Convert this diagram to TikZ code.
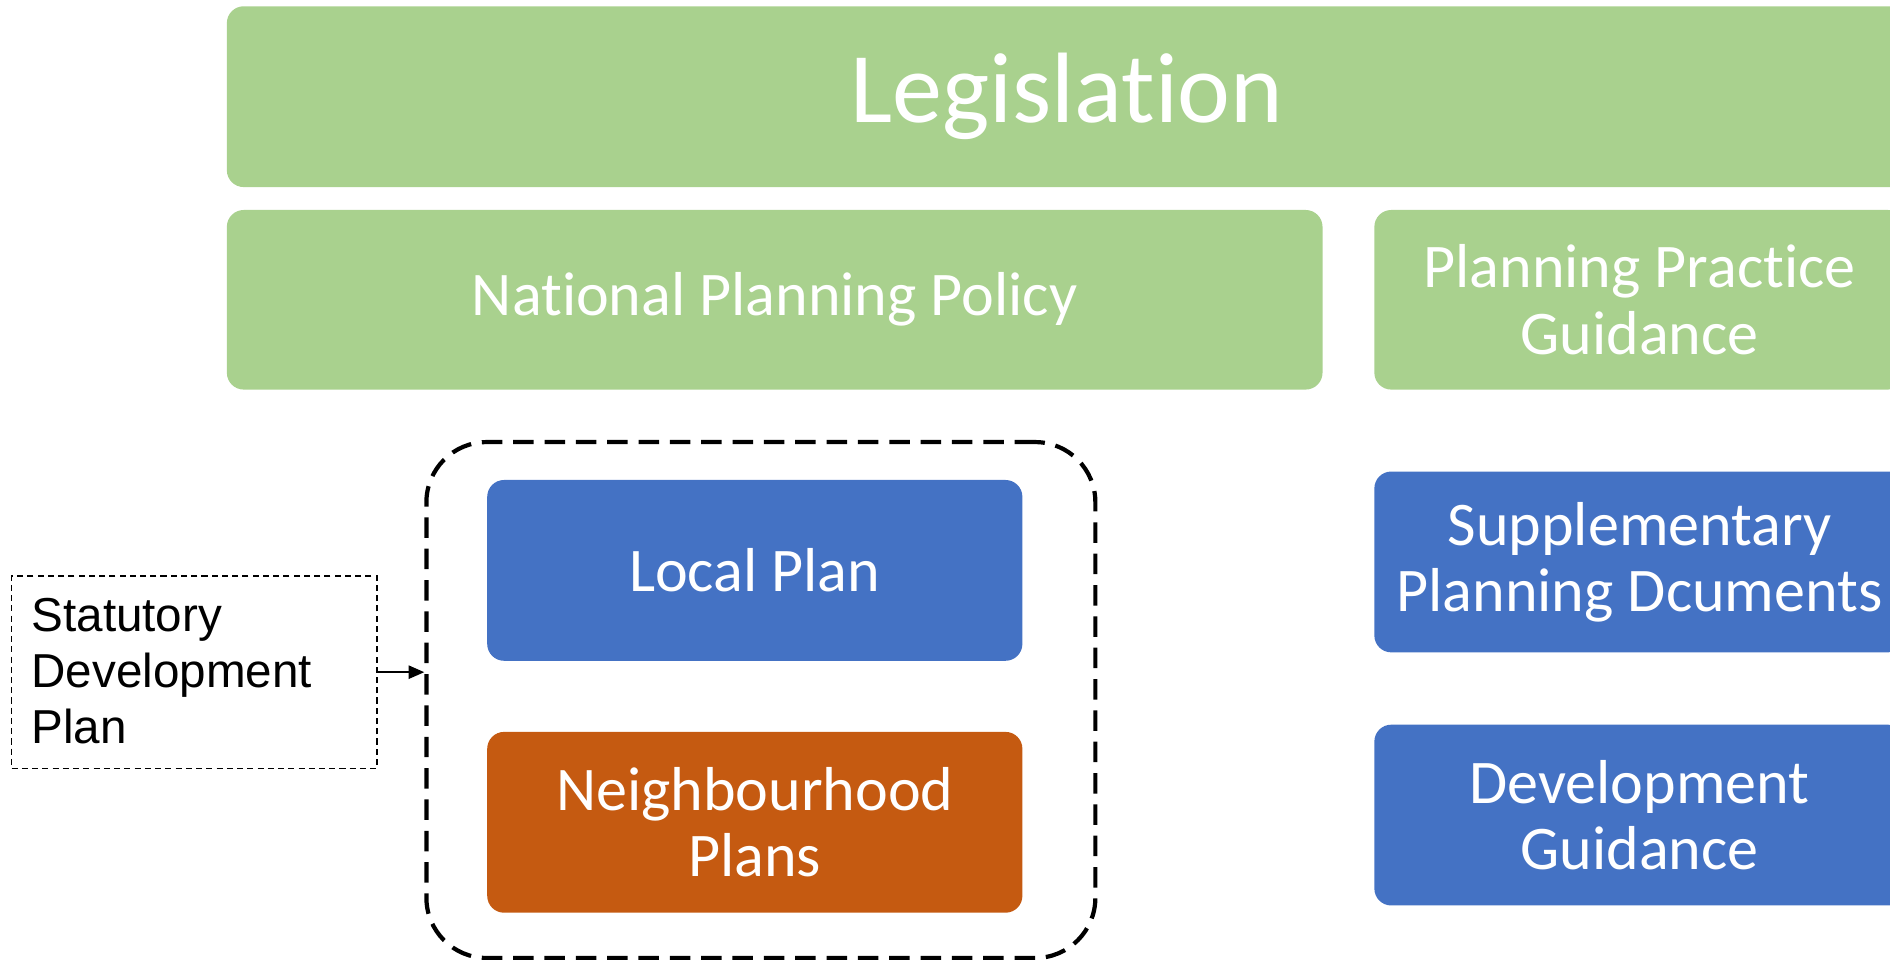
\documentclass[tikz,border=0pt]{standalone}
\usepackage{fontspec}
\setmainfont{Carlito}[Ligatures={NoCommon,NoRare,NoContextual}]
\newfontfamily\arialfont{Liberation Sans}
\usetikzlibrary{arrows.meta,positioning}
\definecolor{lgreen}{HTML}{A9D18E}
\definecolor{mblue}{HTML}{4472C4}
\definecolor{morange}{HTML}{C55A11}
\begin{document}
\begin{tikzpicture}[x=1pt,y=-1pt,
  boxbase/.style={rectangle, rounded corners=14pt, draw=none, text=white, anchor=north west, align=center, inner sep=0pt},
  gbox/.style={boxbase, fill=lgreen},
  bbox/.style={boxbase, fill=mblue},
  obox/.style={boxbase, fill=morange},
  midfont/.style={font=\fontsize{51.5}{55}\selectfont},
]
\useasboundingbox (0,0) rectangle (1568,796);
\clip (0,0) rectangle (1568,796);
\node[gbox, minimum width=1394pt, minimum height=150pt, font=\fontsize{83}{90}\selectfont] (leg) at (188,5) {Legislat\kern0pt ion};
\node[gbox, midfont, minimum width=909pt, minimum height=149pt] (npp) at (188,174) {Nat\kern0pt ional Planning Policy};
\node[gbox, midfont, minimum width=440pt, minimum height=149pt] (ppg) at (1140,174) {Planning Pract\kern0pt ice\\Guidance};
\node[bbox, midfont, minimum width=440pt, minimum height=150pt] (spd) at (1140,391) {Supplementary\\Planning Dcuments};
\node[bbox, midfont, minimum width=440pt, minimum height=150pt] (dg) at (1140,601) {Development\\Guidance};
\node[bbox, midfont, minimum width=444pt, minimum height=150pt] (lp) at (404,398) {Local Plan};
\node[obox, midfont, minimum width=444pt, minimum height=150pt] (np) at (404,607) {Neighbourhood\\Plans};
\node[rectangle, rounded corners=50pt, draw=black, line width=3.5pt, dash pattern=on 17pt off 9pt, minimum width=555pt, minimum height=428pt, anchor=north west, inner sep=0pt] (grp) at (352,365) {};
\node[rectangle, draw=black, line width=1.3pt, dash pattern=on 5pt off 3.5pt, minimum width=303pt, minimum height=160pt, anchor=north west, inner sep=0pt] (stat) at (9,477) {};
\node[anchor=west, align=left, inner sep=0pt, font=\arialfont\fontsize{39.5}{46.5}\selectfont] (stattext) at (26,557) {Statutory\\Development\\Plan};
\draw[line width=1.5pt, -{Triangle[length=13pt,width=11pt]}] (stat.east) -- (stat.east -| grp.west);
\end{tikzpicture}
\end{document}
